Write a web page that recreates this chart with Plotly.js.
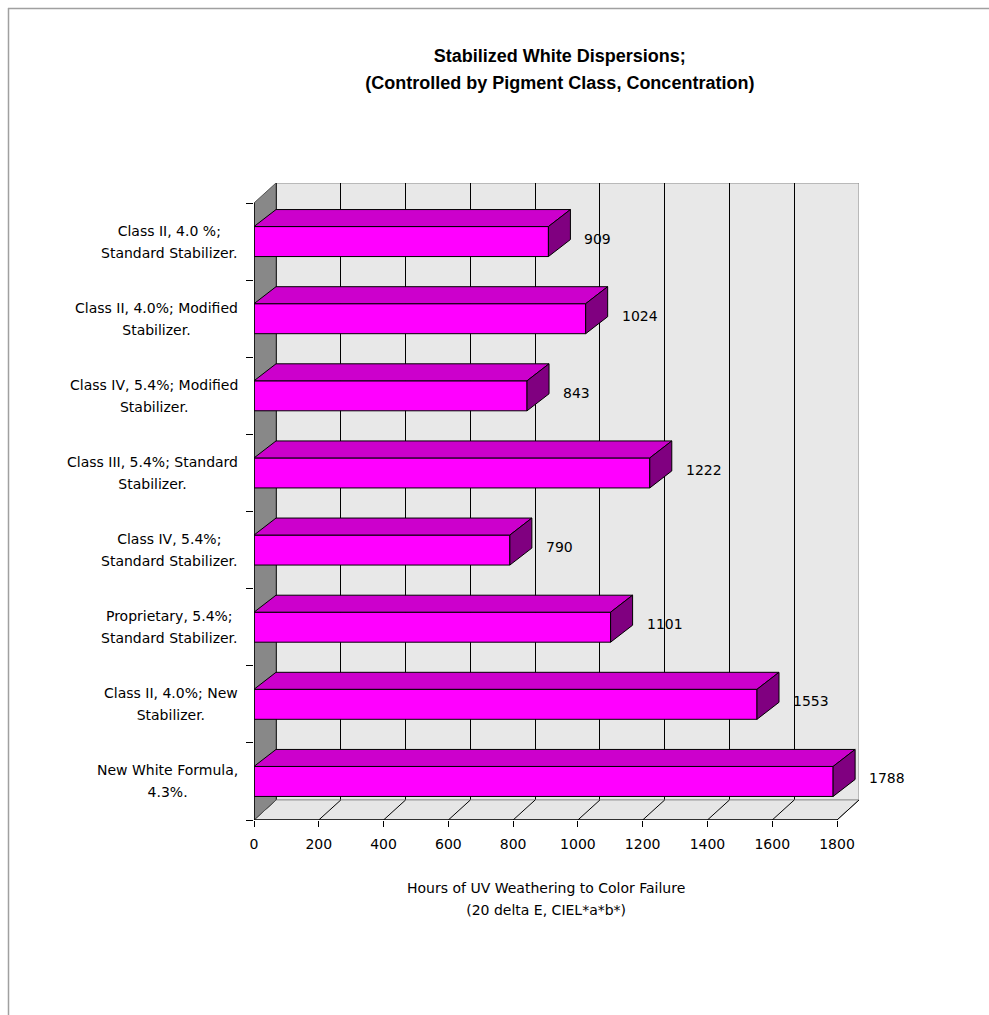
<!DOCTYPE html>
<html><head><meta charset="utf-8">
<script src="https://cdn.plot.ly/plotly-3.0.1.min.js"></script>
<style>body{margin:0;background:#fff}</style>
</head><body><div id="chart" style="width:989px;height:1015px"></div>
<script>
// ---- data ----
const categories = [
  "Class II, 4.0 %;<br>Standard Stabilizer.",
  "Class II, 4.0%; Modified<br>Stabilizer.",
  "Class IV, 5.4%; Modified<br>Stabilizer.",
  "Class III, 5.4%; Standard<br>Stabilizer.",
  "Class IV, 5.4%;<br>Standard Stabilizer.",
  "Proprietary, 5.4%;<br>Standard Stabilizer.",
  "Class II, 4.0%; New<br>Stabilizer.",
  "New White Formula,<br>4.3%."
];
const hours = [909, 1024, 843, 1222, 790, 1101, 1553, 1788];
const xTicks = [0, 200, 400, 600, 800, 1000, 1200, 1400, 1600, 1800];
const titleLines = ["Stabilized White Dispersions;", "(Controlled by Pigment Class, Concentration)"];
const xTitleLines = ["Hours of UV Weathering to Color Failure", "(20 delta E, CIEL*a*b*)"];

// ---- geometry (pixels) ----
const W = 989, H = 1015;
const L = 254, FRONT_W = 583, DEPTH_X = 22, DEPTH_Y = 20;
const R = L + FRONT_W + DEPTH_X;
const FRONT_TOP = 203, B = 820, T = FRONT_TOP - DEPTH_Y;
const xMax = xTicks[xTicks.length - 1];
const pxX = FRONT_W / xMax;
const n = categories.length;
const pxY = (B - FRONT_TOP) / n;
const wdx = DEPTH_X / pxX, wdy = DEPTH_Y / pxY;
const bdx = 22 / pxX, bdy = 17 / pxY, bh = 30 / pxY;
const yTop = -0.5, yBot = n - 0.5;
const idx = categories.map((_, i) => i);
const paperX = px => (px - L) / (R - L);
const paperY = py => (B - py) / (B - T);

const FONT = "DejaVu Sans, Arial, sans-serif";

// ---- 3D faces computed from values ----
const topX = [], topY = [], sideX = [], sideY = [];
hours.forEach((v, i) => {
  const y0 = i - bh / 2, y1 = i + bh / 2;
  topX.push(0, v, v + bdx, bdx, 0, null);
  topY.push(y0, y0, y0 - bdy, y0 - bdy, y0, null);
  sideX.push(v, v + bdx, v + bdx, v, v, null);
  sideY.push(y0, y0 - bdy, y1 - bdy, y1, y0, null);
});

const traces = [
  {type: 'bar', orientation: 'h', x: hours, y: idx, width: bh,
   marker: {color: '#ff00ff', line: {color: '#000', width: 1}}, hoverinfo: 'x', showlegend: false},
  {type: 'scatter', mode: 'lines', x: topX, y: topY, fill: 'toself', fillcolor: '#cc00cc',
   line: {color: '#000', width: 1}, hoverinfo: 'skip', showlegend: false},
  {type: 'scatter', mode: 'lines', x: sideX, y: sideY, fill: 'toself', fillcolor: '#800080',
   line: {color: '#000', width: 1}, hoverinfo: 'skip', showlegend: false}
];

// ---- walls ----
const shapes = [];
shapes.push({type: 'rect', xref: 'x', yref: 'y', layer: 'below',
  x0: wdx, x1: xMax + wdx, y0: yTop - wdy, y1: yBot - wdy,
  fillcolor: '#e8e8e8', line: {color: '#8a8a8a', width: 1}});
shapes.push({type: 'path', xref: 'x', yref: 'y', layer: 'between',
  path: `M0,${yBot} L${xMax},${yBot} L${xMax + wdx},${yBot - wdy} L${wdx},${yBot - wdy} Z`,
  fillcolor: '#e6e6e6', line: {color: '#9a9a9a', width: 1}});
shapes.push({type: 'path', xref: 'x', yref: 'y', layer: 'between',
  path: `M${xMax},${yBot} L${xMax + wdx + 50},${yBot} L${xMax + wdx + 50},${yBot - wdy} L${xMax + wdx},${yBot - wdy} Z`,
  fillcolor: '#ffffff', line: {width: 0}});
shapes.push({type: 'path', xref: 'x', yref: 'y', layer: 'between',
  path: `M${xMax},${yBot} L${xMax + wdx},${yBot - wdy}`,
  line: {color: '#9a9a9a', width: 1}});
xTicks.forEach(v => {
  shapes.push({type: 'line', xref: 'x', yref: 'y', layer: 'between',
    x0: v, y0: yBot, x1: v + wdx, y1: yBot - wdy, line: {color: '#000', width: 1}});
});
shapes.push({type: 'path', xref: 'x', yref: 'y', layer: 'between',
  path: `M0,${yTop} L${wdx},${yTop - wdy} L${wdx},${yBot - wdy} L0,${yBot} Z`,
  fillcolor: '#888888', line: {color: '#555', width: 1}});
shapes.push({type: 'line', xref: 'x', yref: 'y', layer: 'above',
  x0: 0, y0: yBot, x1: xMax, y1: yBot, line: {color: '#000', width: 1.5}});
shapes.push({type: 'line', xref: 'x', yref: 'y', layer: 'above',
  x0: 0, y0: yTop, x1: 0, y1: yBot, line: {color: '#000', width: 1.5}});
// page frame (gray border lines at top and left)
shapes.push({type: 'line', xref: 'paper', yref: 'paper', layer: 'above',
  x0: paperX(8), x1: paperX(W + 5), y0: paperY(8.5), y1: paperY(8.5), line: {color: '#a0a0a0', width: 1.5}});
shapes.push({type: 'line', xref: 'paper', yref: 'paper', layer: 'above',
  x0: paperX(8.5), x1: paperX(8.5), y0: paperY(8), y1: paperY(H + 5), line: {color: '#a0a0a0', width: 1.5}});

// ---- annotations ----
const annotations = [];
categories.forEach((c, i) => {
  const txt = c.split('<br>').map(s => `<span style="font-size:14px">${s}</span>`).join('<br>');
  annotations.push({xref: 'paper', yref: 'y', x: paperX(240), y: i,
    xanchor: 'right', yanchor: 'middle', align: 'center', showarrow: false,
    text: txt, font: {family: FONT, size: 17, color: '#000'}});
});
hours.forEach((v, i) => {
  annotations.push({xref: 'x', yref: 'y', x: v, y: i, xanchor: 'left', yanchor: 'middle',
    xshift: 34, yshift: 3, showarrow: false, text: String(v),
    font: {family: FONT, size: 14, color: '#000'}});
});
annotations.push({xref: 'x', yref: 'paper', x: (xTicks[0] + xMax) / 2, y: 0,
  yshift: -58, xanchor: 'center', yanchor: 'top', align: 'center', showarrow: false,
  text: xTitleLines.map(s => `<span style="font-size:14px">${s}</span>`).join('<br>'),
  font: {family: FONT, size: 17, color: '#000'}});

const layout = {
  width: W, height: H,
  margin: {l: L, r: W - R, t: T, b: H - B, pad: 0},
  paper_bgcolor: '#fff', plot_bgcolor: '#fff',
  showlegend: false,
  title: {text: titleLines.map(s => `<span style="font-size:18px">${s}</span>`).join('<br>'),
    x: 500 / W, xanchor: 'center', xref: 'paper', yref: 'container', y: 1 - 62 / H, yanchor: 'top',
    font: {family: "Liberation Sans, Arial, sans-serif", size: 21, weight: 'bold', color: '#000'}},
  xaxis: {range: [0, (R - L) / pxX], tickvals: xTicks, ticktext: xTicks.map(String),
    showgrid: false, zeroline: false, showline: false, ticks: 'outside', ticklen: 6,
    ticklabelstandoff: 5,
    tickcolor: '#000', tickwidth: 1, tickfont: {family: FONT, size: 14, color: '#000'}, fixedrange: true},
  xaxis2: {overlaying: 'x', range: [-wdx, (R - L) / pxX - wdx], tickvals: xTicks, showticklabels: false,
    ticks: '', showgrid: true, gridcolor: '#000', gridwidth: 1, zeroline: false, showline: false, fixedrange: true},
  yaxis: {range: [yBot, yTop - wdy], tickvals: idx, showticklabels: false, ticks: '',
    showgrid: false, zeroline: false, showline: false, fixedrange: true},
  yaxis2: {overlaying: 'y', range: [yBot, yTop - wdy],
    tickvals: idx.map(i => i - 0.5).concat([yBot]), showticklabels: false,
    ticks: 'outside', ticklen: 7, tickcolor: '#000', showgrid: false, zeroline: false, showline: false, fixedrange: true},
  shapes, annotations
};
// invisible trace to activate secondary axes
traces.push({type: 'scatter', x: [xTicks[0]], y: [0], xaxis: 'x2', yaxis: 'y2', mode: 'markers',
  marker: {opacity: 0}, hoverinfo: 'skip', showlegend: false});

Plotly.newPlot('chart', traces, layout, {displayModeBar: false, staticPlot: true});
</script></body></html>
